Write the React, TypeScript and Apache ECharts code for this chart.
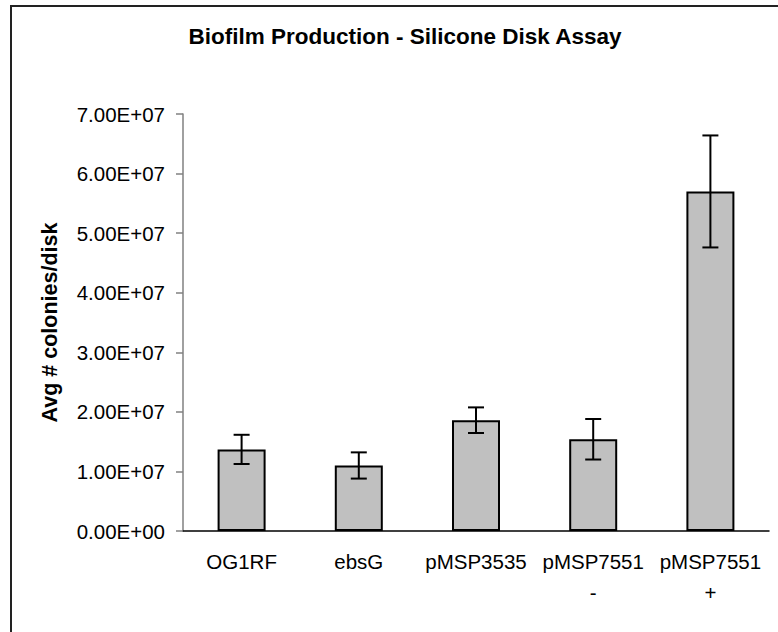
import React, { useEffect, useRef } from "react";
import * as echarts from "echarts";

// Strains tested on silicone disks
const categories = ["OG1RF", "ebsG", "pMSP3535", "pMSP7551\n-", "pMSP7551\n+"];
// Average colonies per disk
const means = [1.37e7, 1.1e7, 1.86e7, 1.54e7, 5.7e7];
// Error (±) on each average
const errors = [0.245e7, 0.22e7, 0.215e7, 0.34e7, 0.94e7];

const FONT = "'Liberation Sans', Arial, sans-serif";

function sci(v: number): string {
  if (v === 0) return "0.00E+00";
  const e = Math.floor(Math.log10(Math.abs(v)));
  const m = (v / Math.pow(10, e)).toFixed(2);
  const sign = e < 0 ? "-" : "+";
  const ex = String(Math.abs(e)).padStart(2, "0");
  return `${m}E${sign}${ex}`;
}

export default function App() {
  const ref = useRef<HTMLDivElement>(null);

  useEffect(() => {
    if (!ref.current) return;
    const chart = echarts.init(ref.current, null, { renderer: "svg" });

    const errData = means.map((m, i) => [i, m - errors[i], m + errors[i]]);

    chart.setOption({
      animation: false,
      backgroundColor: "#ffffff",
      title: {
        text: "Biofilm Production - Silicone Disk Assay",
        left: 400,
        textAlign: "center",
        top: 20,
        textStyle: {
          fontFamily: FONT,
          fontSize: 22.5,
          fontWeight: "bold",
          color: "#000",
        },
      },
      graphic: [
        {
          type: "rect",
          shape: { x: 11, y: 6, width: 900, height: 800 },
          style: { fill: "none", stroke: "#222", lineWidth: 2 },
          silent: true,
          z: 0,
        },
      ],
      grid: { left: 183, right: 9, top: 114, bottom: 101 },
      xAxis: {
        type: "category",
        data: categories,
        axisLine: { lineStyle: { color: "#000", width: 1.5 } },
        axisTick: { lineStyle: { color: "#808080", width: 1.5 }, length: 7 },
        axisLabel: {
          fontFamily: FONT,
          fontSize: 20.5,
          color: "#000",
          lineHeight: 31,
          margin: 15,
          interval: 0,
        },
      },
      yAxis: {
        type: "value",
        min: 0,
        max: 7e7,
        interval: 1e7,
        name: "Avg # colonies/disk",
        nameLocation: "middle",
        nameRotate: 90,
        nameGap: 122,
        nameTextStyle: {
          fontFamily: FONT,
          fontSize: 21.5,
          fontWeight: "bold",
          color: "#000",
        },
        axisLine: { show: true, lineStyle: { color: "#808080", width: 1.5 } },
        axisTick: { show: true, length: 7, lineStyle: { color: "#808080", width: 1.5 } },
        splitLine: { show: false },
        axisLabel: {
          fontFamily: FONT,
          fontSize: 20.5,
          color: "#000",
          margin: 18,
          formatter: (v: number) => sci(v),
        },
      },
      series: [
        {
          type: "bar",
          data: means,
          barWidth: 48,
          itemStyle: { color: "#c0c0c0", borderColor: "#000", borderWidth: 2 },
          z: 2,
        },
        {
          type: "custom",
          data: errData,
          z: 3,
          renderItem: (params: any, api: any) => {
            const idx = api.value(0);
            const lo = api.coord([idx, api.value(1)]);
            const hi = api.coord([idx, api.value(2)]);
            const half = 8;
            const style = { stroke: "#000", lineWidth: 2 };
            return {
              type: "group",
              children: [
                { type: "line", shape: { x1: hi[0], y1: hi[1], x2: lo[0], y2: lo[1] }, style },
                { type: "line", shape: { x1: hi[0] - half, y1: hi[1], x2: hi[0] + half, y2: hi[1] }, style },
                { type: "line", shape: { x1: lo[0] - half, y1: lo[1], x2: lo[0] + half, y2: lo[1] }, style },
              ],
            };
          },
        },
      ],
    });

    return () => chart.dispose();
  }, []);

  return (
    <div
      ref={ref}
      style={{ position: "absolute", left: 0, top: 0, width: 778, height: 632 }}
    />
  );
}
